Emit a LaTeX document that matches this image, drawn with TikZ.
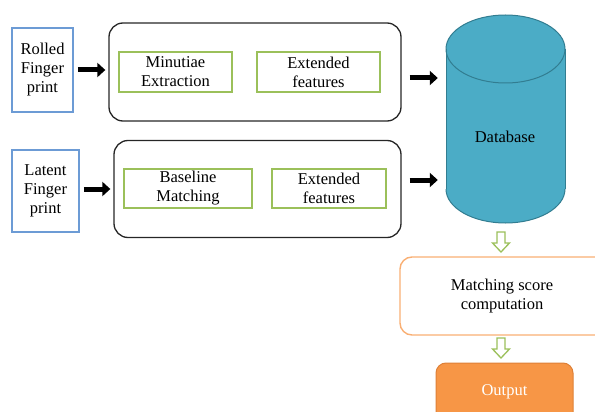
\documentclass[tikz,border=0pt]{standalone}
\usepackage{fontspec}
\setmainfont{Liberation Serif}
\usetikzlibrary{arrows.meta}
\definecolor{bluebd}{RGB}{108,155,213}
\definecolor{greenbd}{RGB}{155,192,90}
\definecolor{dbfill}{RGB}{75,172,198}
\definecolor{dbline}{RGB}{50,125,145}
\definecolor{orangebd}{RGB}{249,175,115}
\definecolor{orangefill}{RGB}{247,150,70}
\definecolor{orangeline}{RGB}{222,128,55}
\begin{document}
\begin{tikzpicture}[x=1pt,y=-1pt,font=\fontsize{16.5}{19}\selectfont,
  inbox/.style={draw=bluebd,line width=1.5pt,align=center,inner sep=0pt},
  grp/.style={draw=black!85,line width=1.3pt,rounded corners=14pt,inner sep=0pt},
  sub/.style={draw=greenbd,line width=1.5pt,align=center,inner sep=0pt},
  blk/.style={line width=5pt,-{Triangle[length=8pt,width=14pt]}},
  hol/.style={draw=greenbd,fill=white,line width=1.3pt,line join=miter}
]
\useasboundingbox (0,0) rectangle (595,412);
\clip (0,0) rectangle (595,412);

% left inputs
\node[inbox,minimum width=61pt,minimum height=84pt] (rolled) at (42.5,70) {Rolled\\Finger\\print};
\node[inbox,minimum width=67pt,minimum height=82pt] (latent) at (45.5,191) {Latent\\Finger\\print};

% group boxes
\node[grp,minimum width=292pt,minimum height=98pt] (top) at (255,72) {};
\node[grp,minimum width=287pt,minimum height=97pt] (bot) at (257.5,189) {};

\node[sub,minimum width=113pt,minimum height=40pt] (minu) at (175.5,72) {Minutiae\\Extraction};
\node[sub,minimum width=123pt,minimum height=40pt] (ext1) at (318.5,72) {Extended\\features};
\node[sub,minimum width=128pt,minimum height=39pt] (base) at (188,188.5) {Baseline\\Matching};
\node[sub,minimum width=114pt,minimum height=39pt] (ext2) at (329,188.5) {Extended\\features};

% database cylinder
\node[minimum width=119pt,minimum height=209pt,inner sep=0pt] (db) at (505.5,118.5) {};
\fill[dbfill] (446,49) rectangle (565,189);
\fill[dbfill] (505.5,189) ellipse [x radius=59.5, y radius=34];
\fill[dbfill] (505.5,49) ellipse [x radius=59.5, y radius=34];
\draw[dbline,line width=1pt] (446,49) -- (446,189) (565,49) -- (565,189);
\begin{scope}
\clip (440,189) rectangle (570,230);
\draw[dbline,line width=1pt] (505.5,189) ellipse [x radius=59.5, y radius=34];
\end{scope}
\draw[dbline,line width=1pt] (505.5,49) ellipse [x radius=59.5, y radius=34];
\node (dbl) at (505,137) {Database};

% matching and output
\node[draw=orangebd,line width=1.4pt,rounded corners=12pt,minimum width=210pt,minimum height=78pt,align=center,inner sep=0pt] (match) at (505,296) {};
\node[align=center] (matchl) at (502,296) {Matching score\\computation};
\node[draw=orangeline,fill=orangefill,line width=1pt,rounded corners=10pt,minimum width=137pt,minimum height=60pt,inner sep=0pt] (out) at (504.5,393) {};
\node[text=white] (outl) at (504.5,392) {Output};

% black arrows
\draw[blk,shorten <=4pt,shorten >=3pt] (rolled.east) -- (rolled.east -| top.west);
\draw[blk,shorten <=4pt,shorten >=3pt] (latent.east |- bot.west) -- (bot.west);
\draw[blk,shorten <=8pt,shorten >=8pt] ([shift={(0,6)}]top.east) -- ([shift={(0,6)}]top.east -| db.west);
\draw[blk,shorten <=8pt,shorten >=8pt] ([shift={(0,-9)}]bot.east) -- ([shift={(0,-9)}]bot.east -| db.west);

% hollow green arrows
\coordinate (h1) at (501,232);
\coordinate (h2) at (501,338);
\foreach \c in {h1,h2}{
  \draw[hol] ([shift={(-4,0)}]\c) -- ([shift={(4,0)}]\c) -- ([shift={(4,11)}]\c) -- ([shift={(8.5,11)}]\c)
    -- ([shift={(0,20)}]\c) -- ([shift={(-8.5,11)}]\c) -- ([shift={(-4,11)}]\c) -- cycle;
}
\end{tikzpicture}
\end{document}
